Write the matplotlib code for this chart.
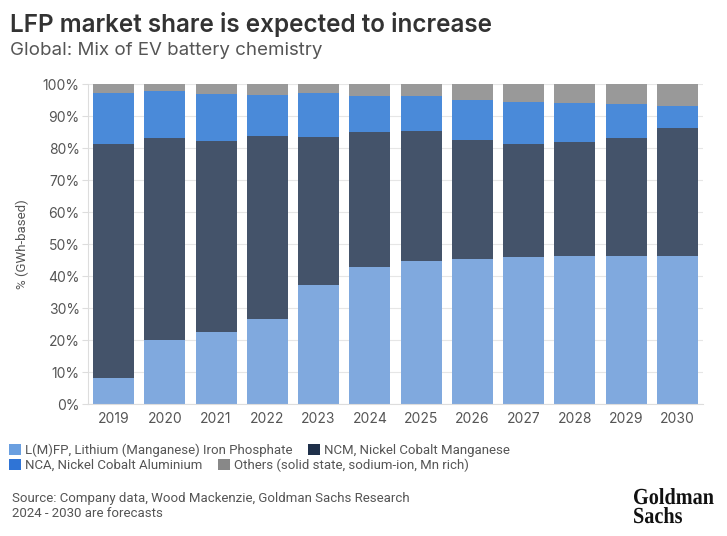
import numpy as np
import matplotlib.pyplot as plt
from matplotlib.patches import Patch, PathPatch
from matplotlib.textpath import TextPath
from matplotlib.font_manager import FontProperties
from matplotlib.transforms import Affine2D
from matplotlib.ticker import PercentFormatter

plt.rcParams['font.family'] = ['Roboto', 'DejaVu Sans']

# Dados (% do total em GWh)
years = ['2019', '2020', '2021', '2022', '2023', '2024', '2025', '2026', '2027', '2028', '2029', '2030']
lfp = [8.3, 20.2, 22.7, 26.6, 37.1, 42.9, 44.8, 45.3, 45.9, 46.3, 46.3, 46.2]
ncm = [73.0, 63.1, 59.6, 57.2, 46.4, 42.2, 40.5, 37.3, 35.4, 35.7, 37.0, 40.0]
nca = [15.9, 14.7, 14.6, 12.9, 13.6, 11.3, 11.1, 12.3, 13.1, 12.1, 10.5, 6.9]
others = [2.8, 2.0, 3.1, 3.3, 2.9, 3.6, 3.6, 5.1, 5.6, 5.9, 6.2, 6.9]

labels = ['L(M)FP, Lithium (Manganese) Iron Phosphate', 'NCM, Nickel Cobalt Manganese',
          'NCA, Nickel Cobalt Aluminium', 'Others (solid state, sodium-ion, Mn rich)']
bar_colors = ['#80a9de', '#44536a', '#4a8ad9', '#999999']
leg_colors = ['#6a9fe0', '#1f304a', '#2f74d6', '#888888']

fig = plt.figure(figsize=(7.27, 5.36), dpi=100)
ax = fig.add_axes([0.121, 0.246, 0.846, 0.597])

x = np.arange(len(years))
bottom = np.zeros(len(years))
for vals, c in zip([lfp, ncm, nca, others], bar_colors):
    ax.bar(x, vals, bottom=bottom, width=0.8, color=c, edgecolor='none', zorder=2)
    bottom += np.array(vals)

ax.set_xlim(-0.5, len(years) - 0.5)
ax.set_ylim(0, 100)
ax.set_yticks(np.arange(0, 101, 10))
ax.yaxis.set_major_formatter(PercentFormatter(decimals=0))
ax.set_xticks(x)
ax.set_xticklabels(years)
ax.grid(axis='y', color='#e6e6e6', linewidth=0.8, zorder=0)
for s in ['top', 'right']:
    ax.spines[s].set_visible(False)
ax.spines['left'].set_color('#dddddd')
ax.spines['bottom'].set_color('#dddddd')
ax.tick_params(axis='y', colors='#555555', labelsize=10, length=4, color='#dddddd', pad=2)
ax.tick_params(axis='x', colors='#555555', labelsize=10, length=0, pad=6)
for lab in ax.get_yticklabels() + ax.get_xticklabels():
    lab.set_family(['Inter', 'DejaVu Sans'])
ax.set_ylabel('% (GWh-based)', color='#555555', fontsize=9.5, labelpad=10)

fig.text(0.014, 0.94, 'LFP market share is expected to increase', fontsize=17.5,
         fontweight='semibold', family=['Inter', 'DejaVu Sans'], color='#333333', va='baseline')
fig.text(0.014, 0.897, 'Global: Mix of EV battery chemistry', fontsize=13.5,
         family=['Inter', 'DejaVu Sans'], color='#555555', va='baseline')

handles = [Patch(facecolor=c, edgecolor='none', label=l) for c, l in zip(leg_colors, labels)]
leg_kw = dict(ncol=2, frameon=False, fontsize=9.5, handlelength=0.9, handleheight=0.9,
              handletextpad=0.3, columnspacing=1.2, borderaxespad=0, borderpad=0,
              labelcolor='#555555')
fig.legend(handles=handles[:2], loc='center left', bbox_to_anchor=(0.012, 0.16), **leg_kw)
fig.legend(handles=handles[2:], loc='center left', bbox_to_anchor=(0.012, 0.132), **leg_kw)

fig.text(0.016, 0.07, 'Source: Company data, Wood Mackenzie, Goldman Sachs Research',
         fontsize=9.5, color='#555555', va='center')
fig.text(0.016, 0.042, '2024 - 2030 are forecasts', fontsize=9.5, color='#555555', va='center')

# logo: serif bold, comprimido na horizontal
fp = FontProperties(family='Liberation Serif', weight='bold')
for word, base_y in [('Goldman', 536 - 504), ('Sachs', 536 - 523)]:
    tp = TextPath((0, 0), word, size=23, prop=fp)
    tr = Affine2D().scale(0.88, 1.0).translate(633, base_y)
    fig.patches.append(PathPatch(tr.transform_path(tp), facecolor='#111111', edgecolor='none',
                                 transform=None, figure=fig))

fig.savefig('out.png', dpi=100)
